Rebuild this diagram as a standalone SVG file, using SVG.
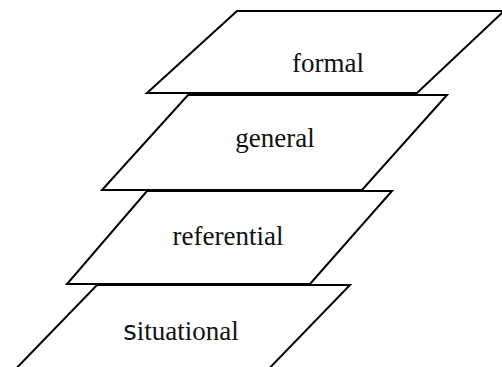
<svg xmlns="http://www.w3.org/2000/svg" width="502" height="367" viewBox="0 0 502 367">
<style>
.p{fill:#fff;stroke:#000;stroke-width:2;stroke-linejoin:miter}
.t{font-family:"Liberation Serif","Times New Roman",serif;font-size:27px;fill:#111;text-anchor:middle}
</style>
<rect width="502" height="367" fill="#fff"/>
<g id="situational">
<polygon class="p" points="97,285 350,285 258,380 5,380"/>
<text class="t" x="181" y="340"><tspan font-family="'DejaVu Sans',sans-serif" font-size="26">s</tspan>ituational</text>
</g>
<g id="referential">
<polygon class="p" points="147,191 392,191 310,284 67,284"/>
<text class="t" x="228" y="245">referential</text>
</g>
<g id="general">
<polygon class="p" points="188,95 447,95 362,190 102,190"/>
<text class="t" x="275" y="147">general</text>
</g>
<g id="formal">
<polygon class="p" points="237,11 504,11 417,93 147,93"/>
<text class="t" x="328" y="72">formal</text>
</g>
<g id="connectors"/>
</svg>
